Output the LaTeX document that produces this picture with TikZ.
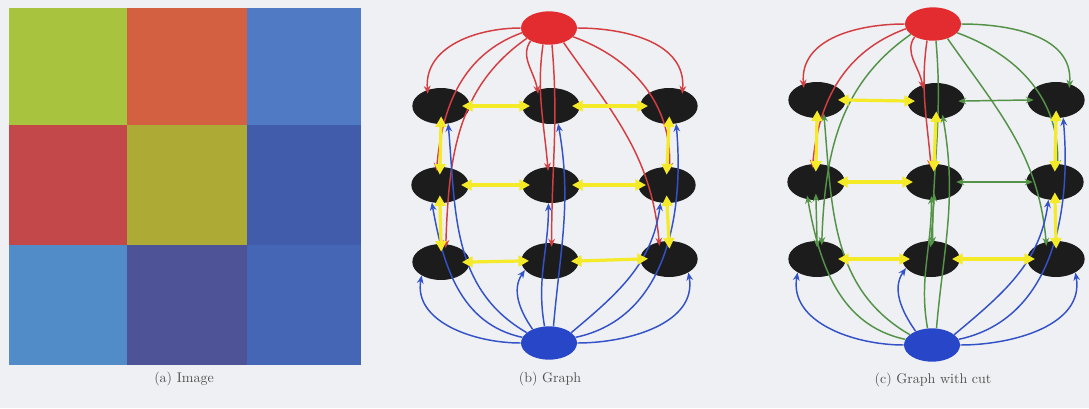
\documentclass[tikz,border=0pt]{standalone}
\usetikzlibrary{arrows.meta,shapes.geometric}
\definecolor{bg}{RGB}{238,240,243}
\definecolor{cLime}{RGB}{168,196,62}
\definecolor{cOrange}{RGB}{212,96,66}
\definecolor{cBlueA}{RGB}{80,122,196}
\definecolor{cRed}{RGB}{194,72,74}
\definecolor{cOlive}{RGB}{174,170,54}
\definecolor{cBlueB}{RGB}{66,92,172}
\definecolor{cBlueC}{RGB}{82,140,200}
\definecolor{cIndigo}{RGB}{78,82,150}
\definecolor{cBlueD}{RGB}{68,102,180}
\definecolor{nodeblack}{RGB}{28,28,28}
\definecolor{srcred}{RGB}{226,44,48}
\definecolor{snkblue}{RGB}{40,70,200}
\definecolor{edgered}{RGB}{212,62,66}
\definecolor{edgeblue}{RGB}{52,82,200}
\definecolor{edgegreen}{RGB}{84,146,72}
\definecolor{edgeyel}{RGB}{244,234,40}
\definecolor{captext}{RGB}{80,80,80}
\tikzset{
  blk/.style={ellipse,fill=nodeblack,minimum width=43pt,minimum height=27pt,inner sep=0pt},
  src/.style={ellipse,fill=srcred,minimum width=42pt,minimum height=25pt,inner sep=0pt},
  snk/.style={ellipse,fill=snkblue,minimum width=42pt,minimum height=25pt,inner sep=0pt},
  captxt/.style={text=captext,font=\fontsize{10.5}{12}\selectfont},
  redE/.style={draw=edgered,line width=1.1pt,shorten >=-3pt,-{Stealth[length=6pt,width=5pt]}},
  blueE/.style={draw=edgeblue,line width=1.1pt,-{Stealth[length=6pt,width=5pt]}},
  greenE/.style={draw=edgegreen,line width=1.1pt,shorten >=-3pt,-{Stealth[length=6pt,width=5pt]}},
  yelE/.style={draw=edgeyel,line width=2.4pt,shorten >=-6pt,shorten <=-6pt,{Triangle[length=8pt,width=8pt]}-{Triangle[length=8pt,width=8pt]}},
  grnE/.style={draw=edgegreen,line width=1.1pt,shorten >=-5pt,shorten <=-5pt,{Stealth[length=6pt,width=5pt]}-{Stealth[length=6pt,width=5pt]}},
  hideE/.style={draw=none},
  % panel (b)
  bS11/.style=redE, bS12/.style=redE, bS13/.style=redE,
  bS21/.style=redE, bS22/.style=redE, bS23/.style=redE,
  bS31/.style=redE, bS32/.style=redE, bS33/.style=redE,
  bT11/.style=blueE, bT12/.style=blueE, bT13/.style=blueE,
  bT21/.style=blueE, bT22/.style=blueE, bT23/.style=blueE,
  bT31/.style=blueE, bT32/.style=blueE, bT33/.style=blueE,
  bH1a/.style=yelE, bH1b/.style=yelE, bH2a/.style=yelE,
  bH2b/.style=yelE, bH3a/.style=yelE, bH3b/.style=yelE,
  bVLa/.style=yelE, bVLb/.style=yelE, bVCa/.style=hideE,
  bVCb/.style=hideE, bVRa/.style=yelE, bVRb/.style=yelE,
  % panel (c)
  cS11/.style=redE, cS12/.style=redE, cS13/.style=greenE,
  cS21/.style=redE, cS22/.style=redE, cS23/.style=greenE,
  cS31/.style=greenE, cS32/.style=greenE, cS33/.style=greenE,
  cT11/.style=greenE, cT12/.style=greenE, cT13/.style=blueE,
  cT21/.style=greenE, cT22/.style=greenE, cT23/.style=blueE,
  cT31/.style=blueE, cT32/.style=blueE, cT33/.style=blueE,
  cH1a/.style=yelE, cH1b/.style=grnE, cH2a/.style=yelE,
  cH2b/.style=grnE, cH3a/.style=yelE, cH3b/.style=yelE,
  cVLa/.style=yelE, cVLb/.style=grnE, cVCa/.style=yelE,
  cVCb/.style=grnE, cVRa/.style=yelE, cVRb/.style=yelE,
}
\newcommand\panelEdges[1]{%
  % source edges
  \draw[#1S11] (#1S.west) to[out=180,in=95] (#111.130);
  \draw[#1S12] (#1S.215) to[out=235,in=100] (#112.130);
  \draw[#1S13] (#1S.east) to[out=0,in=85] (#113.50);
  \draw[#1S21] (#1S.190) to[out=200,in=85] (#121.100);
  \draw[#1S31] (#1S.205) to[out=215,in=88] (#131.75);
  \draw[#1S22] (#1S.250) to[out=262,in=95] (#122.100);
  \draw[#1S32] (#1S.280) to[out=275,in=90] (#132.85);
  \draw[#1S23] (#1S.340) to[out=-20,in=88] (#123.82);
  \draw[#1S33] (#1S.315) to[out=-55,in=95] (#133.120);
  % sink edges
  \draw[#1T31] (#1T.west) to[out=180,in=260] (#131.215);
  \draw[#1T32] (#1T.140) to[out=125,in=235] (#132.200);
  \draw[#1T33] (#1T.east) to[out=0,in=280] (#133.325);
  \draw[#1T21] (#1T.168) to[out=168,in=280] (#121.245);
  \draw[#1T11] (#1T.155) to[out=150,in=275] (#111.292);
  \draw[#1T22] (#1T.105) to[out=100,in=270] (#122.262);
  \draw[#1T12] (#1T.75) to[out=85,in=280] (#112.292);
  \draw[#1T23] (#1T.25) to[out=40,in=262] (#123.250);
  \draw[#1T13] (#1T.12) to[out=12,in=275] (#113.292);
  % neighbourhood edges
  \draw[#1H1a] (#111.east) -- (#112.west);
  \draw[#1H1b] (#112.east) -- (#113.west);
  \draw[#1H2a] (#121.east) -- (#122.west);
  \draw[#1H2b] (#122.east) -- (#123.west);
  \draw[#1H3a] (#131.east) -- (#132.west);
  \draw[#1H3b] (#132.east) -- (#133.west);
  \draw[#1VLa] (#111.south) -- (#121.north);
  \draw[#1VLb] (#121.south) -- (#131.north);
  \draw[#1VCa] (#112.south) -- (#122.north);
  \draw[#1VCb] (#122.south) -- (#132.north);
  \draw[#1VRa] (#113.south) -- (#123.north);
  \draw[#1VRb] (#123.south) -- (#133.north);
}
\begin{document}
\begin{tikzpicture}[x=0.75pt,y=-0.75pt]
\useasboundingbox (0,0) rectangle (1089,408);
\fill[bg] (0,0) rectangle (1089,408);
% (a) image
\fill[cLime]   (9,8)   rectangle (127,125);
\fill[cOrange] (127,8) rectangle (247,125);
\fill[cBlueA]  (247,8) rectangle (361,125);
\fill[cRed]    (9,125)   rectangle (127,245);
\fill[cOlive]  (127,125) rectangle (247,245);
\fill[cBlueB]  (247,125) rectangle (361,245);
\fill[cBlueC]  (9,245)   rectangle (127,365);
\fill[cIndigo] (127,245) rectangle (247,365);
\fill[cBlueD]  (247,245) rectangle (361,365);
\node[captxt] (capa) at (184,379) {(a) Image};
% (b) graph
\node[src] (bS) at (549,28) {};
\node[snk] (bT) at (549,343) {};
\node[blk] (b11) at (441,106) {};
\node[blk] (b12) at (551,106) {};
\node[blk] (b13) at (669,106) {};
\node[blk] (b21) at (440,185) {};
\node[blk] (b22) at (551,185) {};
\node[blk] (b23) at (667,185) {};
\node[blk] (b31) at (441,262) {};
\node[blk] (b32) at (550,261) {};
\node[blk] (b33) at (669,259) {};
\panelEdges{b}
\node[captxt] (capb) at (550,379) {(b) Graph};
% (c) graph with cut
\node[src] (cS) at (933,24) {};
\node[snk] (cT) at (932,345) {};
\node[blk] (c11) at (817,100) {};
\node[blk] (c12) at (936,101) {};
\node[blk] (c13) at (1056,100) {};
\node[blk] (c21) at (816,182) {};
\node[blk] (c22) at (934,182) {};
\node[blk] (c23) at (1055,182) {};
\node[blk] (c31) at (817,259) {};
\node[blk] (c32) at (931,259) {};
\node[blk] (c33) at (1056,259) {};
\panelEdges{c}
\node[captxt] (capc) at (933,380) {(c) Graph with cut};
\end{tikzpicture}
\end{document}
